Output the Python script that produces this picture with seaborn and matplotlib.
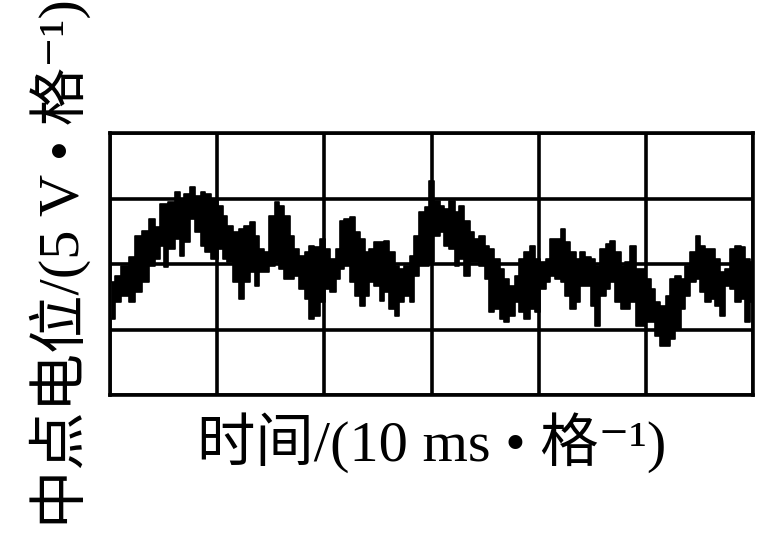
import matplotlib
matplotlib.use("Agg")
import matplotlib.pyplot as plt
import seaborn as sns
import pandas as pd
import numpy as np

# time (ms), 10 ms per division
t_ms = [0.2, 0.7, 1.4, 2.1, 2.6, 3.3, 3.9, 4.5, 4.9, 5.1, 5.8, 6.3, 6.7, 7.2, 7.7, 8.2, 8.7, 9.1,
        9.8, 10.3, 10.7, 11.2, 11.7, 12.3, 12.8, 13.3, 13.7, 14.2, 14.6, 15.1, 15.6, 16.0, 16.5,
        17.0, 17.4, 17.9, 18.4, 18.8, 19.3, 19.9, 20.3, 20.8, 21.3, 21.6, 22.1, 22.7, 23.1, 23.5,
        24.0, 24.4, 24.9, 25.4, 25.8, 26.3, 26.8, 27.2, 27.7, 28.2, 28.6, 29.1, 29.6, 30.0, 30.5,
        31.0, 31.4, 31.9, 32.4, 32.8, 33.3, 33.8, 34.2, 34.7, 35.2, 35.6, 36.1, 36.6, 37.0, 37.5,
        38.0, 38.4, 38.9, 39.4, 39.9, 40.4, 40.9, 41.3, 41.8, 42.3, 42.7, 43.2, 43.7, 44.1, 44.6,
        45.1, 45.5, 46.0, 46.5, 46.9, 47.4, 47.9, 48.3, 48.8, 49.3, 49.7, 50.2, 50.7, 51.1, 51.6,
        52.1, 52.5, 53.0, 53.5, 53.9, 54.4, 54.9, 55.3, 55.8, 56.3, 56.7, 57.2, 57.6, 58.1, 58.6,
        59.1, 59.5, 59.9]

# upper envelope of the neutral-point voltage trace (V), 5 V per division
v_upper = [-1.37, -0.92, -0.15, 0.53, 2.14, 2.52, 3.44, 2.82, 4.58, 4.58, 4.73, 5.50, 4.96, 5.34,
           5.88, 5.19, 5.50, 5.34, 4.96, 4.43, 3.66, 2.90, 2.44, 2.67, 2.90, 3.21, 2.14, 1.15, 0.92,
           3.66, 4.73, 4.43, 3.66, 2.14, 1.15, 0.61, 0.92, 1.37, 1.30, 1.91, 1.15, 0.38, 1.15, 3.28,
           3.44, 3.59, 2.44, 1.91, 0.92, 1.15, 1.68, 1.68, 1.76, 0.92, -0.15, -0.38, -0.15, 0.61,
           2.14, 3.97, 4.35, 6.30, 4.81, 4.43, 4.20, 4.81, 3.97, 4.43, 3.28, 2.44, 1.91, 2.14, 1.37,
           1.15, 0.38, -0.38, -1.15, -1.68, -0.92, 0.38, 0.92, 1.37, 0.38, 0.15, 0.38, 1.91, 1.91,
           2.67, 1.68, 0.92, 0.38, 0.92, 0.53, 0.38, -0.15, 1.15, 1.53, 1.76, 0.92, -0.15, 0.15,
           1.37, -0.38, -0.38, -1.15, -1.91, -2.90, -3.21, -2.44, -1.15, -0.92, -1.15, -0.15, 0.92,
           2.14, 1.37, 1.15, 1.15, 0.38, -0.61, -0.38, 1.15, 1.37, 1.30, 0.38, 0.15]

# lower envelope of the trace (V)
v_lower = [-4.20, -2.90, -2.44, -2.90, -2.14, -1.37, -0.15, 0.38, 1.37, -0.23, 1.15, 1.91, 0.61,
           1.68, 3.44, 2.44, 1.37, 0.92, 0.38, 1.15, 0.38, 0.15, -1.37, -2.67, -1.37, -0.61, -1.68,
           -0.61, -0.61, -0.15, 0.15, -0.38, -1.15, -1.15, -0.92, -1.91, -2.67, -4.20, -3.97, -2.90,
           -1.91, -2.14, -1.15, -0.38, -0.15, -1.37, -2.44, -3.21, -2.44, -1.37, -1.68, -2.82, -2.14,
           -3.44, -3.97, -2.90, -2.44, -2.90, -0.92, -0.15, -0.15, 0.15, 2.14, 2.44, 1.37, 1.15,
           -0.15, 0.38, -0.92, 0.15, 0.15, -0.15, -1.15, -3.66, -3.44, -4.20, -4.43, -3.97, -2.90,
           -3.66, -4.20, -3.44, -3.66, -1.91, -1.37, -0.92, -1.15, -1.37, -2.44, -3.44, -2.90,
           -1.68, -1.68, -3.21, -4.73, -2.44, -1.91, -1.37, -2.90, -3.44, -3.44, -2.90, -4.73,
           -4.73, -4.43, -4.43, -5.50, -6.26, -6.26, -5.73, -4.96, -3.44, -2.44, -1.37, -1.15,
           -2.14, -2.90, -2.67, -3.21, -3.97, -1.68, -1.91, -2.90, -2.67, -4.43, -2.90]

x_label = "时间/(10 ms • 格⁻¹)"
y_label = "中点电位/(5 V • 格⁻¹)"

sns.set_theme(style="white")
fonts = ["Liberation Serif", "Noto Sans CJK SC", "DejaVu Serif"]
plt.rcParams["font.family"] = fonts
plt.rcParams["text.color"] = "black"
plt.rcParams["axes.labelcolor"] = "black"

df = pd.DataFrame({"t": t_ms, "upper": v_upper, "lower": v_lower})

fig = plt.figure(figsize=(7.6, 5.38), dpi=100)
ax = fig.add_axes([110 / 760, 1 - 395 / 538, 643 / 760, 262 / 538])

ax.fill_between(df["t"], df["lower"], df["upper"], color="black", lw=0, step="mid")
sns.lineplot(data=df, x="t", y="upper", ax=ax, color="black", lw=1.2, drawstyle="steps-mid")
sns.lineplot(data=df, x="t", y="lower", ax=ax, color="black", lw=1.2, drawstyle="steps-mid")

ax.set_xlim(0, 60)
ax.set_ylim(-10, 10)
ax.set_xticks(np.arange(0, 61, 10))
ax.set_yticks(np.arange(-10, 11, 5))
ax.tick_params(length=0, labelbottom=False, labelleft=False)
ax.grid(True, color="black", lw=2.6)
ax.set_axisbelow(True)
for s in ax.spines.values():
    s.set_visible(True)
    s.set_color("black")
    s.set_linewidth(2.6)

ax.set_xlabel(x_label, fontsize=42, family=fonts, color="black", labelpad=12)
ax.set_ylabel(y_label, fontsize=42, family=fonts, color="black", labelpad=14)

fig.savefig("out.png", dpi=100)
